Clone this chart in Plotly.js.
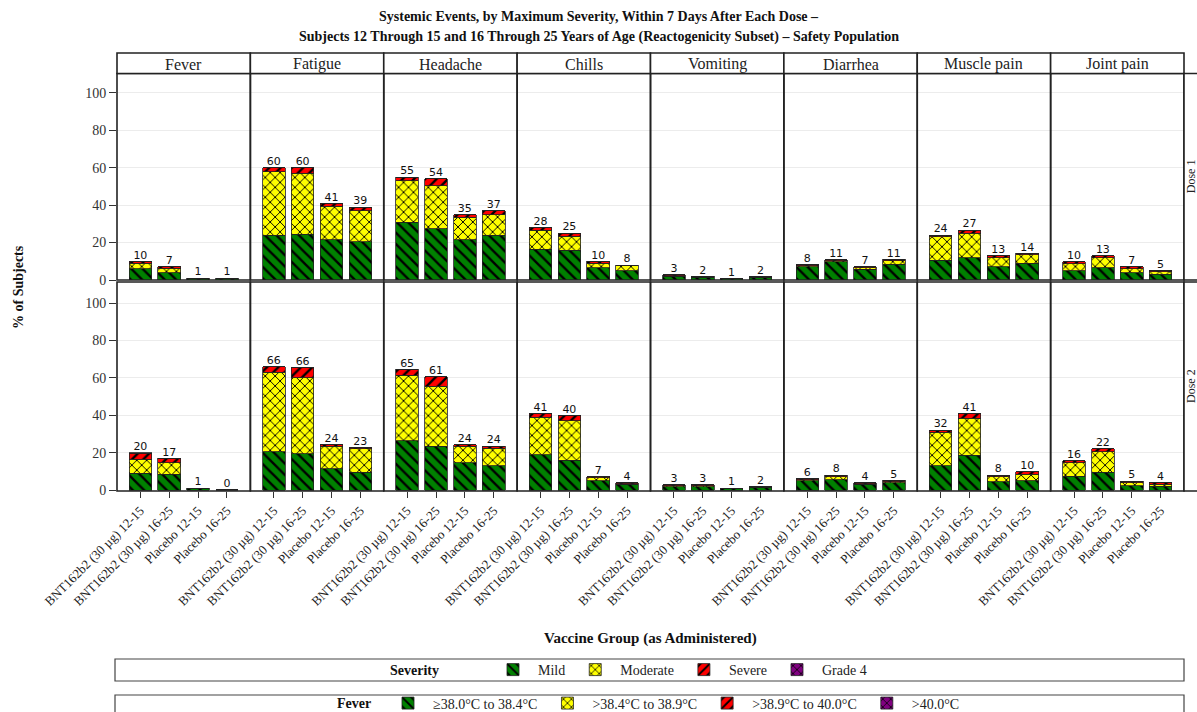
<!DOCTYPE html>
<html>
<head>
<meta charset="utf-8">
<script src="https://cdn.plot.ly/plotly-3.0.1.min.js"></script>
<style>html,body{margin:0;padding:0;background:#fff;}#chart{width:1197px;height:712px;}</style>
</head>
<body>
<div id="chart"></div>
<script>
// ---------- data ----------
const categories = ['BNT162b2 (30 µg) 12-15', 'BNT162b2 (30 µg) 16-25', 'Placebo 12-15', 'Placebo 16-25'];
const events = ['Fever', 'Fatigue', 'Headache', 'Chills', 'Vomiting', 'Diarrhea', 'Muscle pain', 'Joint pain'];
const doses = ['Dose 1', 'Dose 2'];
const severities = ['Mild', 'Moderate', 'Severe', 'Grade 4'];
const feverLegend = ['≥38.0°C to 38.4°C', '>38.4°C to 38.9°C', '>38.9°C to 40.0°C', '>40.0°C'];

// rows: events (Fever..Joint pain); columns: categories
const mildDose1 = [[6, 4, 0.6, 0.8], [24, 24.5, 21.5, 20.5], [31, 27.5, 21.5, 24], [16.5, 16, 6.5, 5], [2, 1.5, 0.7, 1.2], [7, 9.8, 5.8, 8.5], [10.5, 12, 7, 9], [5, 6.5, 4, 3]];
const moderateDose1 = [[3, 2.2, 0.3, 0.2], [34, 32.5, 18, 16.5], [22, 23, 12, 11], [10, 7.5, 2.5, 2.5], [0.3, 0.2, 0, 0.3], [0.7, 0.5, 0.8, 1.8], [12.5, 13, 5, 4.5], [3.8, 5.5, 2, 1.5]];
const severeDose1 = [[1, 0.8, 0.1, 0], [2, 3, 1.5, 2], [2, 3.5, 1.5, 2], [1.5, 1.5, 1, 0.5], [0.5, 0.3, 0.2, 0.3], [0.5, 0.5, 0.5, 0.7], [1, 1.7, 1, 0.7], [1, 1, 1, 0.6]];
const grade4Dose1 = [[0, 0, 0, 0], [0, 0, 0, 0], [0, 0, 0, 0], [0, 0, 0, 0], [0, 0, 0, 0], [0, 0, 0, 0], [0, 0, 0, 0], [0, 0, 0, 0]];
const labelsDose1 = [[10, 7, 1, 1], [60, 60, 41, 39], [55, 54, 35, 37], [28, 25, 10, 8], [3, 2, 1, 2], [8, 11, 7, 11], [24, 27, 13, 14], [10, 13, 7, 5]];

const mildDose2 = [[9, 8.5, 0.6, 0.2], [20.5, 19.5, 11.5, 9.5], [26.5, 23.5, 14.5, 13], [19, 16, 5, 3], [1.8, 1.8, 0.8, 1.2], [5, 5.5, 3, 4], [13, 18.5, 4.5, 5], [7.5, 9.5, 2.3, 2]];
const moderateDose2 = [[7.5, 6, 0.3, 0], [42.5, 40.5, 12, 12.5], [35, 32, 9, 9.5], [20, 21, 1.5, 0.5], [0.5, 0.5, 0, 0.3], [0.5, 1.5, 0.3, 0.5], [18, 20, 2.5, 3.5], [7, 11, 1.5, 1.2]];
const severeDose2 = [[3.2, 2.5, 0.2, 0], [3, 5.5, 0.8, 0.7], [3, 5, 0.7, 1], [2, 3, 0.5, 0.5], [0.5, 0.5, 0.3, 0.4], [0.5, 1, 0.6, 0.7], [1, 2.5, 1, 1.2], [1.2, 1.5, 1, 0.8]];
const grade4Dose2 = [[0.3, 0, 0, 0], [0, 0, 0, 0], [0, 0, 0, 0], [0, 0, 0, 0], [0, 0, 0, 0], [0, 0, 0, 0], [0, 0, 0, 0], [0, 0, 0, 0]];
const labelsDose2 = [[20, 17, 1, 0], [66, 66, 24, 23], [65, 61, 24, 24], [41, 40, 7, 4], [3, 3, 1, 2], [6, 8, 4, 5], [32, 41, 8, 10], [16, 22, 5, 4]];

// ---------- styles ----------
const SERIF = 'Liberation Serif, Times New Roman, serif';
const SANS = 'DejaVu Sans, Arial, sans-serif';
const sevStyle = [
  {color: '#008000', shape: '\\', size: 8, solidity: 0.3},
  {color: '#FFFF00', shape: 'x', size: 7, solidity: 0.25},
  {color: '#FF0000', shape: '/', size: 8, solidity: 0.3},
  {color: '#800080', shape: 'x', size: 7, solidity: 0.25}
];

const doseData = [
  [mildDose1, moderateDose1, severeDose1, grade4Dose1, labelsDose1],
  [mildDose2, moderateDose2, severeDose2, grade4Dose2, labelsDose2]
];

const traces = [];
doseData.forEach((dd, r) => {
  events.forEach((ev, e) => {
    const n = r * 8 + e + 1;
    const xa = n === 1 ? 'x' : 'x' + n;
    const ya = r === 0 ? 'y' : 'y2';
    for (let s = 0; s < 4; s++) {
      const st = sevStyle[s];
      traces.push({
        type: 'bar', x: categories, y: dd[s][e], xaxis: xa, yaxis: ya,
        name: severities[s], legendgroup: severities[s], legend: 'legend',
        showlegend: n === 1, width: 0.78,
        marker: {color: st.color, line: {color: '#222', width: 0.8},
                 pattern: {shape: st.shape, fgcolor: '#000', bgcolor: st.color, size: st.size, solidity: st.solidity}},
        hoverinfo: 'skip'
      });
    }
    const totals = categories.map((c, k) => dd[0][e][k] + dd[1][e][k] + dd[2][e][k] + dd[3][e][k]);
    traces.push({
      type: 'scatter', mode: 'text', x: categories, y: totals, text: dd[4][e].map(String),
      textposition: 'top center', textfont: {family: SANS, size: 11, color: '#111'},
      xaxis: xa, yaxis: ya, showlegend: false, hoverinfo: 'skip', cliponaxis: false
    });
  });
});
// Fever legend entries (on a hidden helper axis, drawn outside its range)
feverLegend.forEach((nm, s) => {
  const st = sevStyle[s];
  traces.push({
    type: 'bar', x: [categories[0]], y: [1], xaxis: 'x17', yaxis: 'y3', name: nm, legend: 'legend2', showlegend: true,
    hoverinfo: 'skip',
    marker: {color: st.color, line: {color: '#222', width: 0.8},
             pattern: {shape: st.shape, fgcolor: '#000', bgcolor: st.color, size: st.size, solidity: st.solidity}}
  });
});

// ---------- layout ----------
const L = 117, R = 1184, T = 53, B = 491, H = 712, W = 1197;
const pw = R - L, ph = B - T;
const px2x = p => (p - L) / pw;
const px2y = p => (B - p) / ph;

const topDom = [px2y(280), px2y(73.5)];
const botDom = [0, px2y(282)];

const legendCommon = {
  orientation: 'h', xanchor: 'left', yanchor: 'middle',
  font: {family: SERIF, size: 14, color: '#222'}, bgcolor: 'rgba(0,0,0,0)', traceorder: 'normal',
  itemwidth: 40, itemclick: false, itemdoubleclick: false
};

const layout = {
  width: W, height: H,
  margin: {l: L, r: W - R, t: T, b: H - B, pad: 0, autoexpand: false},
  paper_bgcolor: '#fff', plot_bgcolor: '#fff',
  barmode: 'stack', bargap: 0.2,
  showlegend: true,
  font: {family: SERIF, size: 12, color: '#222'},
  legend: Object.assign({}, legendCommon, {x: px2x(488), y: px2y(670)}),
  legend2: Object.assign({}, legendCommon, {x: px2x(383), y: px2y(703.5)}),
  xaxis17: {domain: [0, 0.001], anchor: 'y3', visible: false, fixedrange: true, type: 'category'},
  yaxis3: {domain: [0, 0.001], anchor: 'x17', visible: false, range: [10, 20], fixedrange: true},
  shapes: [], annotations: []
};

for (let r = 0; r < 2; r++) {
  for (let e = 0; e < 8; e++) {
    const n = r * 8 + e + 1;
    const key = n === 1 ? 'xaxis' : 'xaxis' + n;
    layout[key] = {
      type: 'category', categoryorder: 'array', categoryarray: categories,
      domain: [e / 8, (e + 1) / 8], anchor: r === 0 ? 'y' : 'y2',
      range: [-0.81, 3.81], fixedrange: true,
      showgrid: false, zeroline: false, showline: false,
      ticks: r === 1 ? 'outside' : '', ticklen: 6, tickcolor: '#333',
      showticklabels: r === 1, tickangle: -45,
      tickfont: {family: SERIF, size: 13, color: '#222'}
    };
    layout.shapes.push({type: 'rect', xref: (n === 1 ? 'x' : 'x' + n) + ' domain', yref: (r === 0 ? 'y' : 'y2') + ' domain',
      x0: 0, x1: 1, y0: 0, y1: 1, line: {color: '#222', width: 1.6}, layer: 'above'});
  }
}
const yCommon = {
  fixedrange: true, showgrid: true, gridcolor: '#ececec', gridwidth: 1, zeroline: false, showline: false,
  ticks: 'outside', ticklen: 7, tickcolor: '#333', tickvals: [0, 20, 40, 60, 80, 100],
  tickfont: {family: SERIF, size: 14, color: '#333'}
};
layout.yaxis = Object.assign({}, yCommon, {domain: topDom, anchor: 'x', range: [0, 110.4]});
layout.yaxis2 = Object.assign({}, yCommon, {domain: botDom, anchor: 'x9', range: [-0.5, 111.3]});

// column header strips
events.forEach((ev, e) => {
  layout.shapes.push({type: 'rect', xref: 'paper', yref: 'paper', x0: e / 8, x1: (e + 1) / 8,
    y0: px2y(73.5), y1: px2y(53), line: {color: '#222', width: 1.6}, fillcolor: '#fff'});
  layout.annotations.push({xref: 'paper', yref: 'paper', x: (e + 0.5) / 8, y: px2y(64), text: ev,
    showarrow: false, xanchor: 'center', yanchor: 'middle', font: {family: SERIF, size: 16, color: '#222'}});
});
// row strips (Dose)
doses.forEach((d, r) => {
  const dom = r === 0 ? topDom : botDom;
  layout.shapes.push({type: 'rect', xref: 'paper', yref: 'paper', x0: 1, x1: px2x(1215),
    y0: dom[0], y1: dom[1], line: {color: '#222', width: 1.6}, fillcolor: '#fff'});
  layout.annotations.push({xref: 'paper', yref: 'paper', x: px2x(1190.5), y: (dom[0] + dom[1]) / 2, text: d,
    textangle: -90, showarrow: false, xanchor: 'center', yanchor: 'middle', font: {family: SERIF, size: 12, color: '#222'}});
});
// legend boxes and their titles
layout.shapes.push({type: 'rect', xref: 'paper', yref: 'paper', x0: px2x(115), x1: 1, y0: px2y(681), y1: px2y(659),
  line: {color: '#444', width: 1.2}});
layout.shapes.push({type: 'rect', xref: 'paper', yref: 'paper', x0: px2x(115), x1: 1, y0: px2y(720), y1: px2y(695),
  line: {color: '#444', width: 1.2}});
layout.annotations.push({xref: 'paper', yref: 'paper', x: px2x(414), y: px2y(670), showarrow: false,
  text: '<b>Severity</b>', font: {family: SERIF, size: 14, color: '#111'}, xanchor: 'center', yanchor: 'middle'});
layout.annotations.push({xref: 'paper', yref: 'paper', x: px2x(354), y: px2y(703.5), showarrow: false,
  text: '<b>Fever</b>', font: {family: SERIF, size: 14, color: '#111'}, xanchor: 'center', yanchor: 'middle'});

// titles
layout.annotations.push({xref: 'paper', yref: 'paper', x: px2x(598.5), y: px2y(17), showarrow: false,
  text: '<b>Systemic Events, by Maximum Severity, Within 7 Days After Each Dose –</b>',
  font: {family: SERIF, size: 14, color: '#111'}, xanchor: 'center', yanchor: 'middle'});
layout.annotations.push({xref: 'paper', yref: 'paper', x: px2x(598.5), y: px2y(37), showarrow: false,
  text: '<b>Subjects 12 Through 15 and 16 Through 25 Years of Age (Reactogenicity Subset) – Safety Population</b>',
  font: {family: SERIF, size: 14, color: '#111'}, xanchor: 'center', yanchor: 'middle'});
layout.annotations.push({xref: 'paper', yref: 'paper', x: px2x(18), y: px2y(287), showarrow: false, textangle: -90,
  text: '<b>% of Subjects</b>', font: {family: SERIF, size: 14, color: '#111'}, xanchor: 'center', yanchor: 'middle'});
layout.annotations.push({xref: 'paper', yref: 'paper', x: px2x(650), y: px2y(638), showarrow: false,
  text: '<b>Vaccine Group (as Administered)</b>', font: {family: SERIF, size: 15, color: '#111'}, xanchor: 'center', yanchor: 'middle'});

Plotly.newPlot('chart', traces, layout, {displayModeBar: false, staticPlot: true});
</script>
</body>
</html>
